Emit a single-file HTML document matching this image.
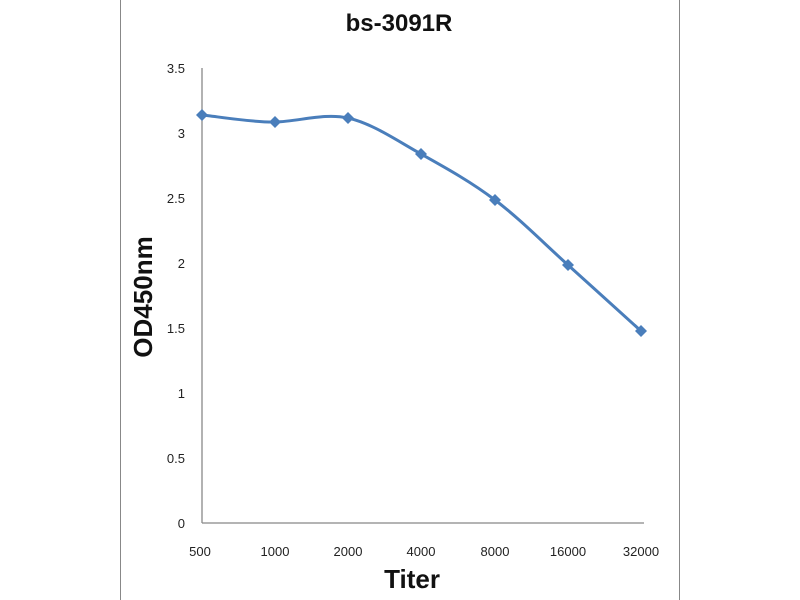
<!DOCTYPE html>
<html><head><meta charset="utf-8"><style>
html,body{margin:0;padding:0;background:#fff;}
svg{display:block;}
</style></head><body>
<svg width="800" height="600" xmlns="http://www.w3.org/2000/svg" font-family="Liberation Sans, sans-serif">
<rect width="800" height="600" fill="#fff"/>
<line x1="120.5" y1="0" x2="120.5" y2="600" stroke="#888" stroke-width="1"/>
<line x1="679.5" y1="0" x2="679.5" y2="600" stroke="#888" stroke-width="1"/>
<text x="399" y="31" text-anchor="middle" font-size="24" font-weight="bold" fill="#111">bs-3091R</text>
<line x1="202" y1="68" x2="202" y2="523" stroke="#888" stroke-width="1.3"/>
<line x1="202" y1="523" x2="644" y2="523" stroke="#888" stroke-width="1.3"/>
<g font-size="13" fill="#222" text-anchor="end">
<text x="185" y="73">3.5</text>
<text x="185" y="138">3</text>
<text x="185" y="203">2.5</text>
<text x="185" y="268">2</text>
<text x="185" y="333">1.5</text>
<text x="185" y="398">1</text>
<text x="185" y="463">0.5</text>
<text x="185" y="528">0</text>
</g>
<g font-size="13" fill="#222" text-anchor="middle">
<text x="200" y="556">500</text>
<text x="275" y="556">1000</text>
<text x="348" y="556">2000</text>
<text x="421" y="556">4000</text>
<text x="495" y="556">8000</text>
<text x="568" y="556">16000</text>
<text x="641" y="556">32000</text>
</g>
<text x="412" y="588" text-anchor="middle" font-size="26" font-weight="bold" fill="#111">Titer</text>
<text transform="translate(152,297) rotate(-90)" text-anchor="middle" font-size="26" font-weight="bold" fill="#111">OD450nm</text>
<path d="M202,115 C214,116 251,122.5 275,122 C299,121.5 324,112.7 348,118 C372,123.3 396.5,140.3 421,154 C445.5,167.7 470.5,181.5 495,200 C519.5,218.5 543.7,243.2 568,265 C592.3,286.8 628.8,320 641,331" fill="none" stroke="#4a7ebb" stroke-width="3"/>
<g fill="#4a7ebb">
<polygon points="202,109 208,115 202,121 196,115"/>
<polygon points="275,116 281,122 275,128 269,122"/>
<polygon points="348,112 354,118 348,124 342,118"/>
<polygon points="421,148 427,154 421,160 415,154"/>
<polygon points="495,194 501,200 495,206 489,200"/>
<polygon points="568,259 574,265 568,271 562,265"/>
<polygon points="641,325 647,331 641,337 635,331"/>
</g>
</svg>
</body></html>
